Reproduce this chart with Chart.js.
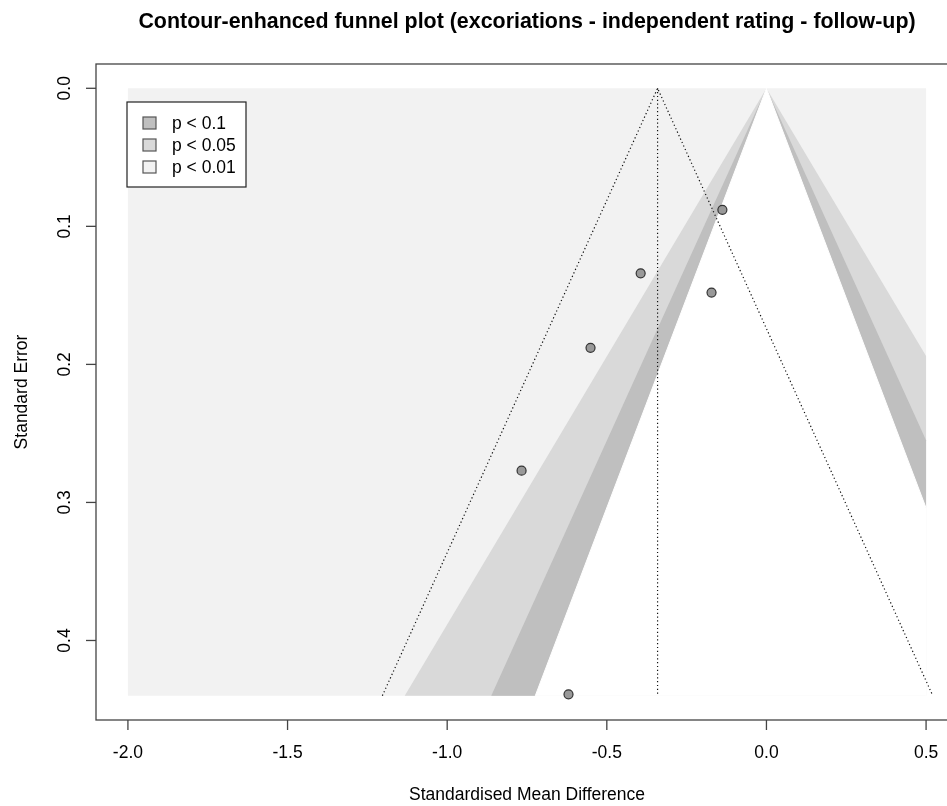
<!DOCTYPE html>
<html>
<head>
<meta charset="utf-8">
<script src="https://cdn.jsdelivr.net/npm/chart.js@4.4.1/dist/chart.umd.min.js"></script>
<style>
  html, body { margin: 0; padding: 0; background: #fff; overflow: hidden; }
  #chart { display: block; }
</style>
</head>
<body>
<canvas id="chart" width="970" height="806"></canvas>
<script>
// study estimates
const smd = [-0.138, -0.394, -0.172, -0.551, -0.767, -0.620];
const se = [0.088, 0.134, 0.148, 0.188, 0.277, 0.439];

// pooled estimate and funnel limits
const pooled = -0.341;
const seMax = 0.44;
const funnelLeft = -1.203;
const funnelRight = 0.521;

// contour edges: x reached at seMax on the left, se where the edge meets x = 0.5 on the right
const contourLabels = ['p < 0.1', 'p < 0.05', 'p < 0.01'];
const contourColors = ['#bfbfbf', '#d9d9d9', '#f2f2f2'];
const contourLeftX = [-0.724, -0.862, -1.133];   // 1.645, 1.96, 2.576 lines
const contourRightSe = [0.304, 0.255, 0.194];
const shadeXRange = [-2.0, 0.5];

// axes
const xTicks = [-2.0, -1.5, -1.0, -0.5, 0.0, 0.5];
const xTickLabels = ['-2.0', '-1.5', '-1.0', '-0.5', '0.0', '0.5'];
const yTicks = [0.0, 0.1, 0.2, 0.3, 0.4];
const yTickLabels = ['0.0', '0.1', '0.2', '0.3', '0.4'];

const FONT = 'Arial, "Liberation Sans", sans-serif';

function wedge(leftX, rightSe) {
  return [
    { x: 0, y: 0 },
    { x: leftX, y: seMax },
    { x: shadeXRange[1], y: seMax },
    { x: shadeXRange[1], y: rightSe },
    { x: 0, y: 0 }
  ];
}

function area(data, color, order, edge) {
  return {
    data,
    order,
    showLine: true,
    fill: 'shape',
    backgroundColor: color,
    borderColor: edge ? color : 'rgba(0,0,0,0)',
    borderWidth: edge ? 1 : 0,
    pointRadius: 0
  };
}

const funnelStyle = {
  showLine: true,
  borderColor: '#111',
  borderWidth: 1.2,
  borderDash: [1.2, 2.6],
  pointRadius: 0,
  fill: false
};

const datasets = [
  {
    label: 'studies',
    data: smd.map((v, i) => ({ x: v, y: se[i] })),
    order: 0,
    pointRadius: 4.5,
    pointBackgroundColor: '#999999',
    pointBorderColor: '#333333',
    pointBorderWidth: 1.2
  },
  Object.assign({
    label: 'funnel',
    data: [{ x: funnelLeft, y: seMax }, { x: pooled, y: 0 }, { x: funnelRight, y: seMax }],
    order: 1
  }, funnelStyle),
  Object.assign({
    label: 'pooled',
    data: [{ x: pooled, y: 0 }, { x: pooled, y: seMax }],
    order: 1
  }, funnelStyle),
  // white region inside the 1.645 lines
  area(wedge(contourLeftX[0], contourRightSe[0]), '#ffffff', 3, true),
  area(wedge(contourLeftX[1], contourRightSe[1]), contourColors[0], 4),
  area(wedge(contourLeftX[2], contourRightSe[2]), contourColors[1], 5),
  area([
    { x: shadeXRange[0], y: 0 },
    { x: shadeXRange[1], y: 0 },
    { x: shadeXRange[1], y: seMax },
    { x: shadeXRange[0], y: seMax },
    { x: shadeXRange[0], y: 0 }
  ], contourColors[2], 6)
];

const decorations = {
  id: 'decorations',
  afterDraw(chart) {
    const ctx = chart.ctx;
    const a = chart.chartArea;
    const xs = chart.scales.x;
    const ys = chart.scales.y;
    ctx.save();

    // plot box
    ctx.strokeStyle = '#444';
    ctx.lineWidth = 1.3;
    ctx.strokeRect(a.left, a.top, a.right - a.left, a.bottom - a.top);

    // title
    ctx.fillStyle = '#000';
    ctx.font = 'bold 21.4px ' + FONT;
    ctx.textAlign = 'center';
    ctx.textBaseline = 'middle';
    ctx.fillText('Contour-enhanced funnel plot (excoriations - independent rating - follow-up)', (a.left + a.right) / 2, 22);

    ctx.font = '17.5px ' + FONT;

    // x axis ticks
    xTicks.forEach((v, i) => {
      const px = xs.getPixelForValue(v);
      ctx.beginPath();
      ctx.moveTo(px, a.bottom);
      ctx.lineTo(px, a.bottom + 10);
      ctx.stroke();
      ctx.fillText(xTickLabels[i], px, a.bottom + 33);
    });
    ctx.fillText('Standardised Mean Difference', (a.left + a.right) / 2, 795);

    // y axis ticks, labels parallel to the axis
    yTicks.forEach((v, i) => {
      const py = ys.getPixelForValue(v);
      ctx.beginPath();
      ctx.moveTo(a.left - 10, py);
      ctx.lineTo(a.left, py);
      ctx.stroke();
      ctx.save();
      ctx.translate(a.left - 31, py);
      ctx.rotate(-Math.PI / 2);
      ctx.fillText(yTickLabels[i], 0, 0);
      ctx.restore();
    });
    ctx.save();
    ctx.translate(22, (a.top + a.bottom) / 2);
    ctx.rotate(-Math.PI / 2);
    ctx.fillText('Standard Error', 0, 0);
    ctx.restore();

    // legend
    const lx = 127, ly = 102;
    ctx.fillStyle = '#fff';
    ctx.fillRect(lx, ly, 119, 85);
    ctx.strokeStyle = '#222';
    ctx.lineWidth = 1.2;
    ctx.strokeRect(lx, ly, 119, 85);
    ctx.textAlign = 'left';
    contourLabels.forEach((lab, i) => {
      const cy = ly + 21 + i * 22;
      ctx.fillStyle = contourColors[i];
      ctx.fillRect(lx + 16, cy - 6, 13, 12);
      ctx.strokeStyle = '#555';
      ctx.lineWidth = 1.2;
      ctx.strokeRect(lx + 16, cy - 6, 13, 12);
      ctx.fillStyle = '#000';
      ctx.fillText(lab, lx + 45, cy + 1);
    });
    ctx.restore();
  }
};

new Chart(document.getElementById('chart'), {
  type: 'scatter',
  data: { datasets },
  options: {
    responsive: false,
    animation: false,
    events: [],
    layout: { padding: { left: 96, top: 64, right: 12, bottom: 86 } },
    scales: {
      x: { type: 'linear', min: -2.1, max: 0.6, display: false },
      y: { type: 'linear', reverse: true, min: -0.0176, max: 0.4576, display: false }
    },
    plugins: {
      legend: { display: false },
      tooltip: { enabled: false }
    }
  },
  plugins: [decorations]
});
</script>
</body>
</html>
